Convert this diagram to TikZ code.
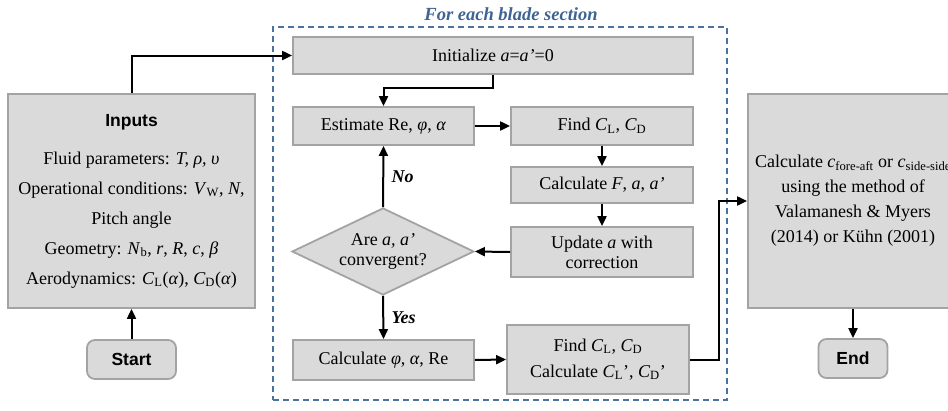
\documentclass[tikz,border=0pt]{standalone}
\usepackage{fontspec}
\setmainfont{Liberation Serif}
\setsansfont{Liberation Sans}
\usetikzlibrary{shapes.geometric,arrows.meta}
\definecolor{boxfill}{HTML}{DADADA}
\definecolor{boxline}{HTML}{A3A3A3}
\definecolor{frameblue}{HTML}{4A72A0}
\definecolor{titleblue}{HTML}{3E6494}
\newcommand{\ital}[1]{\textit{#1}}
\newcommand{\sbs}[1]{\textsubscript{#1}}
\begin{document}
\begin{tikzpicture}[x=1pt,y=-1pt,
  box/.style={draw=boxline, line width=1.8pt, fill=boxfill, inner sep=2pt, align=center,
    font=\fontsize{18}{20}\selectfont},
  term/.style={box, rounded corners=8pt, font=\fontsize{17.5}{20}\selectfont\sffamily\bfseries},
  dec/.style={box, shape=diamond, aspect=2.1, inner sep=0pt},
  arr/.style={-{Triangle[length=10pt,width=9pt]}, line width=2pt},
  lab/.style={font=\fontsize{18}{20}\selectfont\bfseries\itshape},
  frame/.style={draw=frameblue, line width=1.3pt, dash pattern=on 6pt off 4pt}]
\clip (0,0) rectangle (948,410);
\fill[white] (0,0) rectangle (948,410);

% dashed frame
\node[frame, minimum width=454pt, minimum height=373pt, inner sep=0pt] (frame) at (500,213.5) {};
\node[font=\fontsize{18.5}{20}\selectfont\bfseries\itshape, text=titleblue] (title) at (511,14) {For each blade section};

% left column
\node[box, minimum width=247pt, minimum height=214pt, font=\fontsize{18}{30}\selectfont] (inputs) at (131.5,201)
  {{\sffamily\bfseries\fontsize{17.5}{20}\selectfont Inputs}\\[8pt]
   Fluid parameters: \ital{T, ρ, υ}\\
   Operational conditions: \ital{V}\sbs{W}, \ital{N},\\
   Pitch angle\\
   Geometry: \ital{N}\sbs{b}, \ital{r}, \ital{R}, \ital{c}, \ital{β}\\
   Aerodynamics: \ital{C}\sbs{L}(\ital{α}), \ital{C}\sbs{D}(\ital{α})};
\node[term, minimum width=89pt, minimum height=39pt] (start) at (131.5,359.5) {Start};

% loop
\node[box, minimum width=400pt, minimum height=37pt] (init) at (493,55.5) {Initialize \ital{a}=\ital{a’}=0};
\node[box, minimum width=181pt, minimum height=38pt] (estimate) at (383.5,126) {Estimate Re, \ital{φ}, \ital{α}};
\node[box, minimum width=182pt, minimum height=38pt] (find1) at (602,126) {Find \ital{C}\sbs{L}, \ital{C}\sbs{D}};
\node[box, minimum width=182pt, minimum height=36pt] (calcF) at (602,185) {Calculate \ital{F}, \ital{a}, \ital{a’}};
\node[box, minimum width=182pt, minimum height=50pt] (update) at (602,252) {Update \ital{a} with\\correction};
\node[dec, minimum width=182pt, minimum height=87pt] (conv) at (383,251.5) {Are \ital{a, a’}\\convergent?};
\node[box, minimum width=181pt, minimum height=40pt] (calcphi) at (383.5,360) {Calculate \ital{φ}, \ital{α}, Re};
\node[box, minimum width=182pt, minimum height=69pt] (find2) at (598,359.5)
  {Find \ital{C}\sbs{L}, \ital{C}\sbs{D}\\[6pt] Calculate \ital{C}\sbs{L}’, \ital{C}\sbs{D}’};

% right column
\node[box, minimum width=210pt, minimum height=214pt, font=\fontsize{18}{25}\selectfont] (result) at (853,201)
  {Calculate \ital{c}\sbs{fore-aft} or \ital{c}\sbs{side-side}\\
   using the method of\\
   Valamanesh \& Myers\\
   (2014) or Kühn (2001)};
\node[term, minimum width=69pt, minimum height=39pt] (endn) at (853,358.5) {End};

% connectors
\draw[arr] (start.north) -- (inputs.south);
\draw[arr] (inputs.north) |- (init.west);
\draw[arr] (init.south) -- ++(0,13) -| (estimate.north);
\draw[arr] (estimate.east) -- (find1.west);
\draw[arr] (find1.south) -- (calcF.north);
\draw[arr] (calcF.south) -- (update.north);
\draw[arr] (update.west) -- (conv.east);
\draw[arr] (conv.north) -- node[lab, right=4pt] (nolab) {No} (estimate.south);
\draw[arr] (conv.south) -- node[lab, right=4pt] (yeslab) {Yes} (calcphi.north);
\draw[arr] (calcphi.east) -- (find2.west);
\draw[arr] (find2.east) -- ++(29,0) |- (result.west);
\draw[arr] (result.south) -- (endn.north);
\end{tikzpicture}
\end{document}
